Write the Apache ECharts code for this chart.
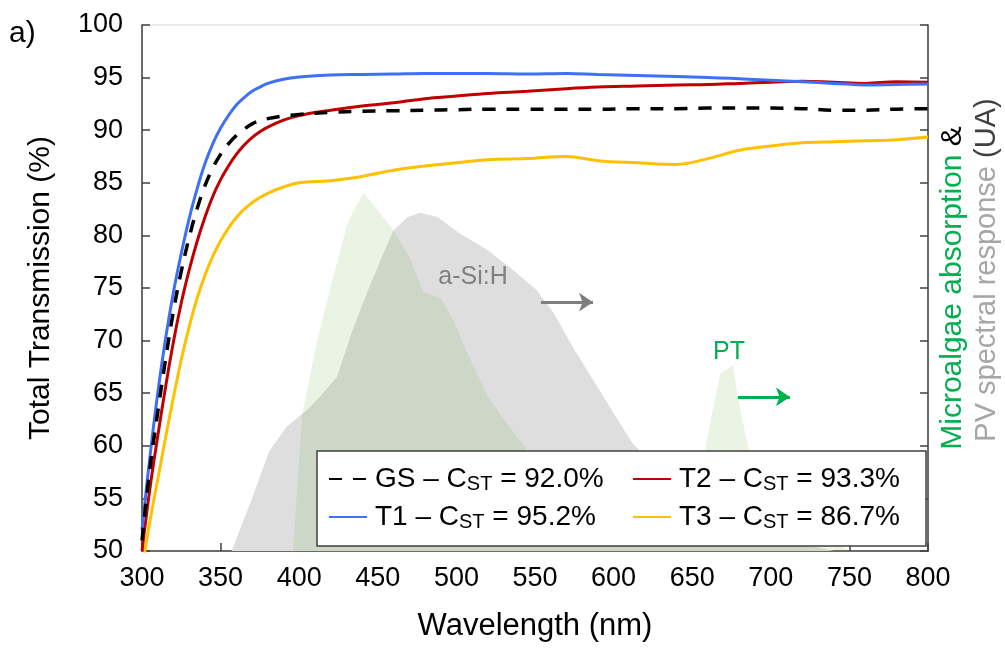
<!DOCTYPE html>
<html>
<head>
<meta charset="utf-8">
<script src="https://cdn.jsdelivr.net/npm/echarts@6/dist/echarts.min.js"></script>
<style>
html,body{margin:0;padding:0;background:#fff;}
#chart{width:1005px;height:648px;}
</style>
</head>
<body>
<div id="chart"></div>
<script>
// ---- data ----
const wavelength = [300,305,310,315,320,325,330,335,340,345,350,355,360,365,370,375,380,390,400,420,440,460,480,500,520,545,570,590,615,640,660,680,700,720,740,760,780,800];
const gsValues = [51.0,57.8,63.2,68.2,72.8,76.6,79.8,82.5,84.7,86.4,87.7,88.7,89.5,90.1,90.6,90.9,91.1,91.35,91.5,91.7,91.8,91.85,91.9,91.95,92.0,92.0,92.0,92.0,92.05,92.05,92.1,92.1,92.1,92.05,91.9,91.9,92.0,92.05];
const t1Values = [52.0,58.9,65.0,70.2,74.6,78.3,81.6,84.4,86.8,88.7,90.2,91.4,92.4,93.1,93.7,94.1,94.45,94.85,95.05,95.25,95.3,95.35,95.4,95.4,95.4,95.35,95.4,95.3,95.2,95.1,95.0,94.9,94.75,94.6,94.45,94.3,94.35,94.4];
const t2Values = [50.0,55.9,60.9,65.6,69.9,73.6,76.7,79.4,81.7,83.7,85.3,86.6,87.7,88.6,89.3,89.85,90.3,90.95,91.4,91.9,92.3,92.6,93.0,93.25,93.5,93.7,93.95,94.1,94.2,94.3,94.35,94.45,94.55,94.65,94.55,94.45,94.6,94.55];
const t3Values = [48.3,52.8,56.8,60.8,64.6,68.2,71.3,74.0,76.2,78.0,79.5,80.7,81.7,82.5,83.1,83.6,84.0,84.6,85.0,85.2,85.6,86.2,86.6,86.9,87.2,87.3,87.5,87.1,86.9,86.75,87.3,88.1,88.5,88.8,88.9,89.0,89.1,89.35];

const seriesNames = ['GS','T1','T2','T3'];
const cstValues = ['92.0','95.2','93.3','86.7'];

// a-Si:H spectral response (arbitrary units)
const grayNm = [357,370,381,392,405,413,424,434,443,451,460,469,477,488,502,520,536,551,562,574,587,600,612,630,650,680,710,740];
const grayUA = [0,0.10,0.19,0.236,0.268,0.293,0.331,0.42,0.49,0.548,0.61,0.635,0.643,0.635,0.604,0.572,0.534,0.496,0.452,0.388,0.325,0.262,0.205,0.15,0.10,0.05,0.02,0];
// microalgae absorption (arbitrary units)
const greenNm = [396,402,411,420,431,441,450,460,471,479,490,498,507,520,532,545,560,580,600,620,640,652,658,663,668,676,679,685,695,710,730,750];
const greenUA = [0,0.262,0.395,0.502,0.626,0.681,0.648,0.61,0.553,0.492,0.481,0.439,0.376,0.293,0.243,0.192,0.15,0.11,0.09,0.08,0.09,0.13,0.192,0.268,0.338,0.354,0.293,0.205,0.12,0.07,0.03,0];

// annotations
const graySpanNm = [553.8, 586.9];
const grayArrowUA = 0.473;
const greenSpanNm = [679.1, 712.2];
const greenArrowUA = 0.293;
const grayLabel = {nm: 510.6, ua: 0.521, text: 'a-Si:H'};
const greenLabel = {nm: 673.4, ua: 0.378, text: 'PT'};

// ---- chart ----
const FONT = 'Liberation Sans, Arial, sans-serif';
const pairs = (xs, ys) => xs.map((x, i) => [x, ys[i]]);
const lineColors = {GS:'#000000', T1:'#3f6ff5', T2:'#c00000', T3:'#ffc000'};
const lineValues = {GS:gsValues, T1:t1Values, T2:t2Values, T3:t3Values};

const legendFormatter = name => {
  const i = seriesNames.indexOf(name);
  return '{f|' + name + ' – C}{s|ST}{n| = ' + cstValues[i] + '%}';
};
const legendRich = {
  f: {fontSize: 28, fontFamily: FONT, color: '#000', lineHeight: 30, padding: [0, 0, 0, 3]},
  n: {fontSize: 28, fontFamily: FONT, color: '#000', lineHeight: 30},
  s: {fontSize: 20, fontFamily: FONT, color: '#000', lineHeight: 8, verticalAlign: 'bottom'}
};
const legendCommon = {
  orient: 'vertical', itemWidth: 38, itemHeight: 14, itemGap: 9,
  formatter: legendFormatter, z: 10,
  itemStyle: {opacity: 0},
  textStyle: {fontSize: 28, fontFamily: FONT, color: '#000', rich: legendRich}
};

const chart = echarts.init(document.getElementById('chart'), null, {renderer: 'canvas'});
const option = {
  animation: false,
  backgroundColor: '#fff',
  grid: {left: 142, right: 77, top: 25, bottom: 97, show: true, borderColor: '#d9d9d9', borderWidth: 1},
  xAxis: {
    type: 'value', min: 300, max: 800, interval: 50,
    name: 'Wavelength (nm)', nameLocation: 'middle', nameGap: 60,
    nameTextStyle: {fontSize: 31, fontFamily: FONT, color: '#000'},
    axisLine: {show: true, lineStyle: {color: '#404040', width: 1.5}},
    axisTick: {show: true, inside: true, length: 8, lineStyle: {color: '#404040', width: 1.5}},
    axisLabel: {fontSize: 27, fontFamily: FONT, color: '#000', margin: 14},
    splitLine: {show: false}
  },
  yAxis: [{
    type: 'value', min: 50, max: 100, interval: 5, position: 'left',
    name: 'Total Transmission (%)', nameLocation: 'middle', nameGap: 86,
    nameTextStyle: {fontSize: 30, fontFamily: FONT, color: '#000'},
    axisLine: {show: true, lineStyle: {color: '#404040', width: 1.5}},
    axisTick: {show: true, inside: true, length: 8, lineStyle: {color: '#404040', width: 1.5}},
    axisLabel: {fontSize: 27, fontFamily: FONT, color: '#000', margin: 19},
    splitLine: {show: false}
  }, {
    type: 'value', min: 0, max: 1, interval: 0.1, position: 'right',
    axisLine: {show: true, lineStyle: {color: '#404040', width: 1.5}},
    axisTick: {show: true, inside: true, length: 8, lineStyle: {color: '#404040', width: 1.5}},
    axisLabel: {show: false},
    splitLine: {show: false}
  }],
  legend: [
    Object.assign({data: ['GS','T1'], left: 323, top: 460}, legendCommon),
    Object.assign({data: ['T2','T3'], left: 627, top: 460}, legendCommon)
  ],
  graphic: [
    {type: 'rect', z: 5, shape: {x: 317, y: 451, width: 609, height: 95},
     style: {fill: '#fff', stroke: '#404040', lineWidth: 1.5}},
    {type: 'text', x: 9, y: 19, style: {text: 'a)', fontSize: 30, fontFamily: FONT, fill: '#000'}},
    {type: 'text', x: 953, y: 288, rotation: Math.PI / 2,
     style: {text: '{g|Microalgae absorption} {k|&}', align: 'center', verticalAlign: 'middle',
       fontSize: 30, fontFamily: FONT,
       rich: {g: {fontSize: 30, fontFamily: FONT, fill: '#00b050'}, k: {fontSize: 30, fontFamily: FONT, fill: '#000'}}}},
    {type: 'text', x: 987, y: 270, rotation: Math.PI / 2,
     style: {text: '{p|PV spectral response} {k|(UA)}', align: 'center', verticalAlign: 'middle',
       fontSize: 29, fontFamily: FONT,
       rich: {p: {fontSize: 29, fontFamily: FONT, fill: '#a6a6a6'}, k: {fontSize: 29, fontFamily: FONT, fill: '#404040'}}}}
  ],
  series: [
    {
      name: 'a-Si:H', type: 'line', yAxisIndex: 1, symbol: 'none', silent: true,
      data: pairs(grayNm, grayUA),
      lineStyle: {width: 0}, areaStyle: {color: '#dedede', opacity: 1},
      markLine: {silent: true, symbol: ['none', 'arrow'], symbolSize: 14,
        lineStyle: {color: '#7f7f7f', width: 3, type: 'solid'}, label: {show: false},
        data: [[{coord: [graySpanNm[0], grayArrowUA]}, {coord: [graySpanNm[1], grayArrowUA]}]]},
      markPoint: {silent: true, symbol: 'circle', symbolSize: 1, itemStyle: {color: 'rgba(0,0,0,0)'},
        label: {show: true, position: 'inside', formatter: grayLabel.text, fontSize: 25, fontFamily: FONT, color: '#808080'},
        data: [{coord: [grayLabel.nm, grayLabel.ua]}]}
    },
    {
      name: 'Microalgae', type: 'line', yAxisIndex: 1, symbol: 'none', silent: true,
      data: pairs(greenNm, greenUA),
      lineStyle: {width: 0}, areaStyle: {color: 'rgba(112,173,71,0.2)'},
      markLine: {silent: true, symbol: ['none', 'arrow'], symbolSize: 14,
        lineStyle: {color: '#00b050', width: 3, type: 'solid'}, label: {show: false},
        data: [[{coord: [greenSpanNm[0], greenArrowUA]}, {coord: [greenSpanNm[1], greenArrowUA]}]]},
      markPoint: {silent: true, symbol: 'circle', symbolSize: 1, itemStyle: {color: 'rgba(0,0,0,0)'},
        label: {show: true, position: 'inside', formatter: greenLabel.text, fontSize: 25, fontFamily: FONT, color: '#00b050'},
        data: [{coord: [greenLabel.nm, greenLabel.ua]}]}
    }
  ].concat(['T3','T2','T1','GS'].map(n => ({
    name: n, type: 'line', yAxisIndex: 0, symbol: 'none', smooth: 0.4, clip: true,
    data: pairs(wavelength, lineValues[n]),
    itemStyle: {color: lineColors[n]},
    lineStyle: n === 'GS'
      ? {color: lineColors[n], width: 3.5, type: [13, 11]}
      : {color: lineColors[n], width: 3}
  })))
};
chart.setOption(option);
</script>
</body>
</html>
